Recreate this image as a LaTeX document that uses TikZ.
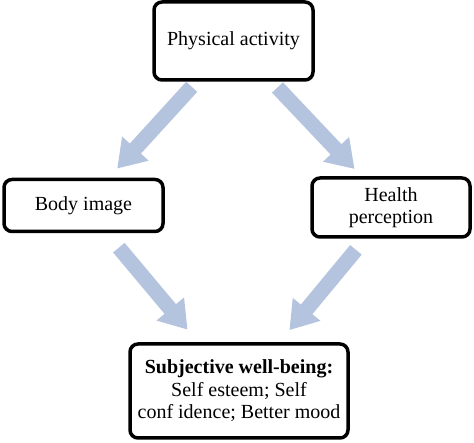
\documentclass[tikz,border=0pt]{standalone}
\usepackage{fontspec}
\setmainfont{Liberation Serif}
\usetikzlibrary{arrows.meta}
\definecolor{arrowblue}{RGB}{180,195,222}

\begin{document}
\begin{tikzpicture} [x = 1pt, y = -1pt,
  box/.style = {draw, line width = 3.5pt, rounded corners = 8pt, fill = white, align = center, inner sep = 0pt,
    font = \fontsize{20}{22.5}\selectfont},
  flow/.style = {arrowblue, line width = 15pt, -{Triangle[length = 27pt, width = 34pt]}}]
\useasboundingbox (0, 0) rectangle (474, 443);
\node[box, minimum width = 159pt, minimum height = 78pt] (activity) at (233.5, 41) {Physical activity};
\node[box, minimum width = 159pt, minimum height = 52pt] (body) at (83.5, 205.5) {Body image};
\node[box, minimum width = 158pt, minimum height = 59pt] (health) at (391, 207.5) {Health\\perception};
\node[box, minimum width = 218pt, minimum height = 94pt] (wellbeing) at (239, 391) {\textbf{Subjective well-being:}\\Self esteem; Self\\conf idence; Better mood};
\draw[flow, shorten < = 62pt, shorten > = 50pt] (activity.center) -- (body.center);
\draw[flow, shorten < = 64pt, shorten > = 53pt] (activity.center) -- (health.center);
\draw[flow, shorten < = 55pt, shorten > = 80pt] (body.center) -- (wellbeing.center);
\draw[flow, shorten < = 55pt, shorten > = 79pt] (health.center) -- (wellbeing.center);
\end{tikzpicture}
\end{document}
